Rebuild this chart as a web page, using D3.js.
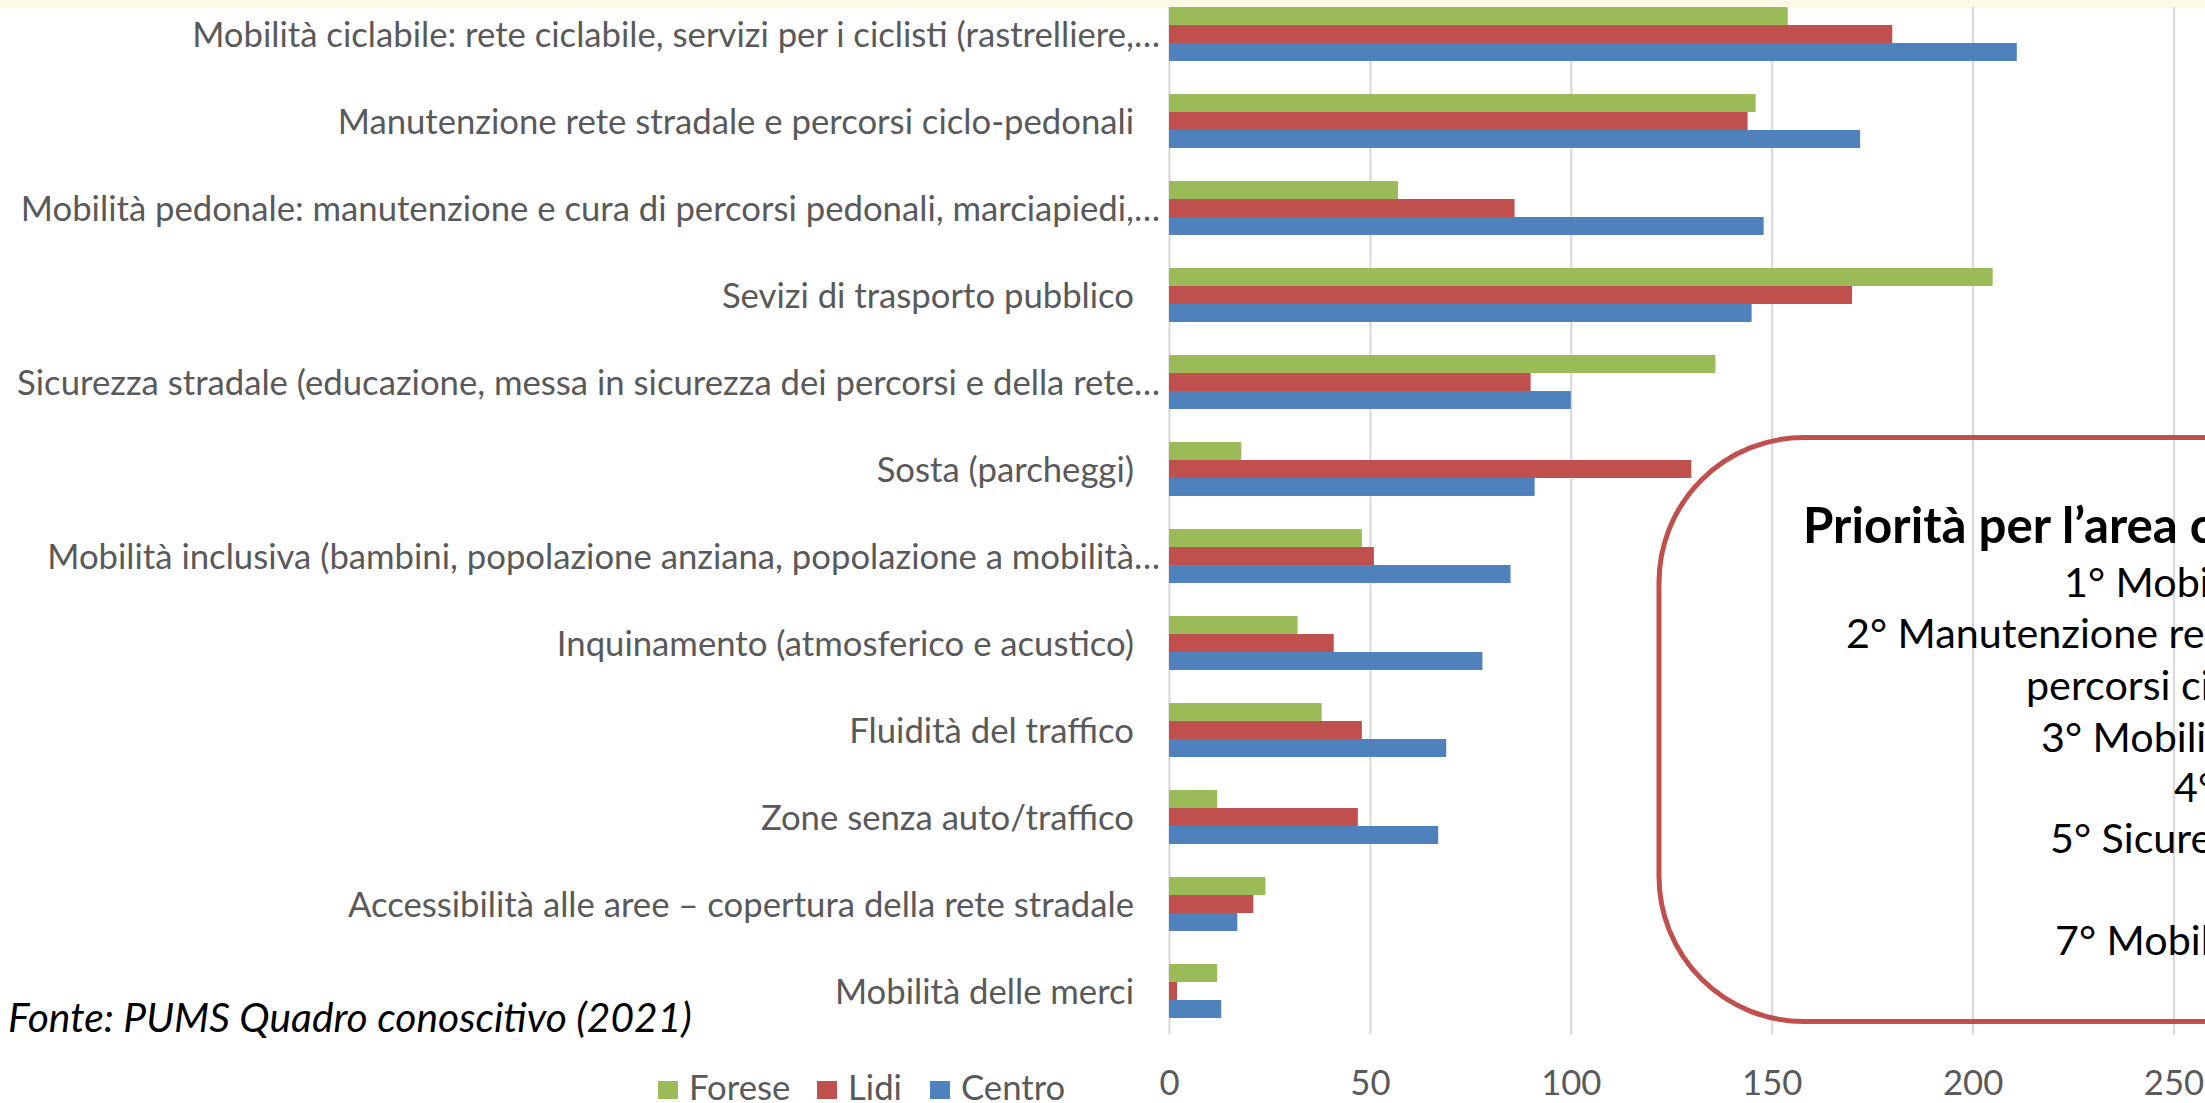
<!DOCTYPE html>
<html>
<head>
<meta charset="utf-8">
<script src="https://cdnjs.cloudflare.com/ajax/libs/d3/7.8.5/d3.min.js"></script>
<style>
  body { margin: 0; background: #fff; overflow: hidden; }
  svg { display: block; font-family: Lato, "Open Sans", sans-serif; }
</style>
</head>
<body>
<div id="chart"></div>
<script>
// data (top row first)
const categories = [
    "Mobilità ciclabile: rete ciclabile, servizi per i ciclisti (rastrelliere,…",
    "Manutenzione rete stradale e percorsi ciclo-pedonali",
    "Mobilità pedonale: manutenzione e cura di percorsi pedonali, marciapiedi,…",
    "Sevizi di trasporto pubblico",
    "Sicurezza stradale (educazione, messa in sicurezza dei percorsi e della rete…",
    "Sosta (parcheggi)",
    "Mobilità inclusiva (bambini, popolazione anziana, popolazione a mobilità…",
    "Inquinamento (atmosferico e acustico)",
    "Fluidità del traffico",
    "Zone senza auto/traffico",
    "Accessibilità alle aree – copertura della rete stradale",
    "Mobilità delle merci"
];
const series = ["Forese", "Lidi", "Centro"];
const forese = [154, 146, 57, 205, 136, 18, 48, 32, 38, 12, 24, 12];
const lidi = [180, 144, 86, 170, 90, 130, 51, 41, 48, 47, 21, 2];
const centro = [211, 172, 148, 145, 100, 91, 85, 78, 69, 67, 17, 13];
const xTicks = [0, 50, 100, 150, 200, 250, 300];
const colors = { Forese: "#9BBB59", Lidi: "#C0504D", Centro: "#4F81BD" };

const boxTitle = "Priorità per l’area centro";
const boxLines = [
    "1° Mobilità ciclabile",
    "2° Manutenzione rete stradale e",
    "percorsi ciclo-pedonali",
    "3° Mobilità pedonale",
    "4° Servizi di trasporto pubblico",
    "5° Sicurezza stradale",
    "7° Mobilità inclusiva"
];
const sourceText = "Fonte: PUMS Quadro conoscitivo (2021)";

document.addEventListener("DOMContentLoaded", function () {
    const W = 2205, H = 1103;
    const plotTop = -9.5, plotBottom = 1034.5;

    const svg = d3.select("#chart").append("svg").attr("width", W).attr("height", H);

    // font size so that a string gets a given width (reference uses Calibri)
    const fit = function (text, targetW, weight, style) {
        const t = svg.append("text").attr("font-size", 100)
            .attr("font-weight", weight || "normal")
            .attr("font-style", style || "normal")
            .text(text);
        const w = t.node().getComputedTextLength();
        t.remove();
        return 100 * targetW / w;
    };
    const labelSize = fit(categories[0], 968);
    const sourceSize = fit(sourceText, 684, "normal", "italic");
    const boxSize = fit("2° Manutenzione", 312);
    const titleSize = fit("Priorità per l’area", 375, "bold");

    // scales
    const xScale = d3.scaleLinear().domain([0, 300]).range([1169, 1169 + 300 * 4.018]);
    const yScale = d3.scaleBand().domain(categories).range([plotTop, plotBottom])
        .paddingInner(0.38).paddingOuter(0.19);
    const ySub = d3.scaleBand().domain(series).range([0, yScale.bandwidth()]);

    // gridlines
    const grid = svg.append("g")
        .attr("transform", "translate(0," + plotBottom + ")")
        .call(d3.axisBottom(xScale).tickValues(xTicks).tickSize(-(plotBottom + 20)).tickFormat(""));
    grid.select(".domain").remove();
    grid.selectAll("line").attr("stroke", "#D9D9D9").attr("stroke-width", 2.2);

    // bars
    const values = { Forese: forese, Lidi: lidi, Centro: centro };
    series.forEach(function (s) {
        svg.append("g").selectAll("rect")
            .data(values[s])
            .enter()
            .append("rect")
            .attr("x", xScale(0))
            .attr("y", (d, i) => yScale(categories[i]) + ySub(s))
            .attr("width", d => xScale(d) - xScale(0))
            .attr("height", ySub.bandwidth())
            .attr("fill", colors[s]);
    });

    // x tick labels
    const xAxis = svg.append("g")
        .attr("transform", "translate(0," + plotBottom + ")")
        .call(d3.axisBottom(xScale).tickValues(xTicks).tickSize(0).tickPadding(48.5 - 0.35 * labelSize));
    xAxis.select(".domain").remove();
    xAxis.attr("font-family", null).attr("font-size", labelSize);
    xAxis.selectAll("text").attr("fill", "#595959");

    // category labels
    const yAxis = svg.append("g")
        .attr("transform", "translate(" + xScale(0) + ",0)")
        .call(d3.axisLeft(yScale).tickSize(0).tickPadding(35));
    yAxis.select(".domain").remove();
    yAxis.attr("font-family", null).attr("font-size", labelSize);
    yAxis.selectAll("text")
        .attr("fill", "#595959")
        .attr("dy", "0.36em")
        .attr("x", d => d.endsWith("…") ? -9 : -35);

    // cream strip of the slide title above the chart
    svg.append("rect").attr("x", 0).attr("y", 0).attr("width", W).attr("height", 7).attr("fill", "#FEF8E6");

    // legend
    const legendX = [658, 817, 930];
    const legend = svg.append("g");
    series.forEach(function (s, i) {
        legend.append("rect").attr("x", legendX[i]).attr("y", 1081).attr("width", 20).attr("height", 18).attr("fill", colors[s]);
        legend.append("text").attr("x", legendX[i] + 31).attr("y", 1088).attr("dy", "0.36em")
            .attr("font-size", labelSize).attr("fill", "#595959").text(s);
    });

    // source note
    svg.append("text").attr("x", 8).attr("y", 1017).attr("dy", "0.36em")
        .attr("font-size", sourceSize).attr("font-style", "italic").attr("fill", "#000")
        .text(sourceText);

    // rounded red box with the priorities
    svg.append("rect")
        .attr("x", 1659).attr("y", 437.5).attr("width", 900).attr("height", 584)
        .attr("rx", 145).attr("ry", 145)
        .attr("fill", "none").attr("stroke", "#C0504D").attr("stroke-width", 5);

    svg.append("text").attr("x", 1803).attr("y", 525).attr("dy", "0.36em")
        .attr("font-size", titleSize).attr("font-weight", "bold").attr("fill", "#000")
        .text(boxTitle);

    const lineX = [2064, 1846, 2026, 2041, 2174, 2050, 2055];
    const lineY = [582, 633, 685, 737, 787, 838, 940];
    boxLines.forEach(function (t, i) {
        svg.append("text").attr("x", lineX[i]).attr("y", lineY[i]).attr("dy", "0.36em")
            .attr("font-size", boxSize).attr("fill", "#000").text(t);
    });
});
</script>
</body>
</html>
